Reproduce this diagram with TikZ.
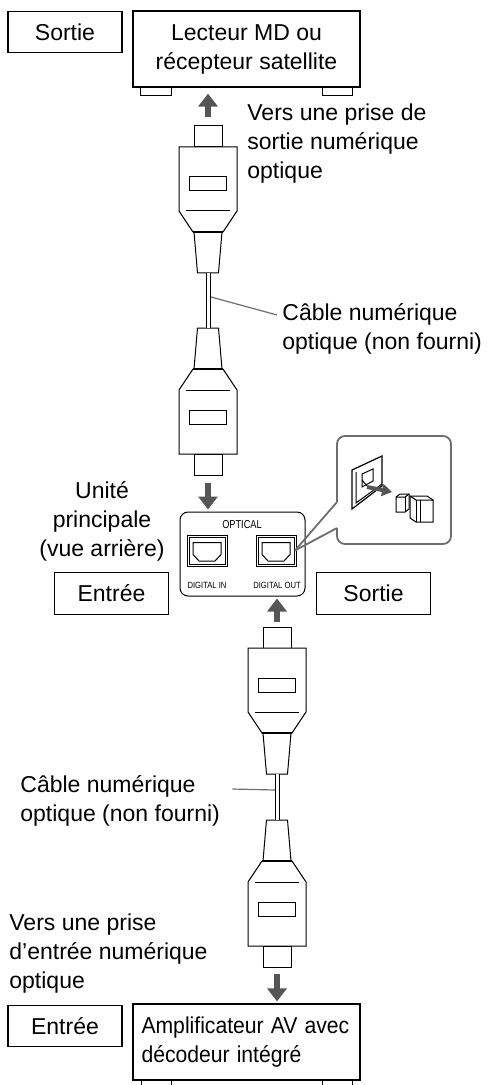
\documentclass[tikz,border=0pt]{standalone}
\usepackage{fontspec}
\setmainfont{Liberation Sans}
\usetikzlibrary{arrows.meta}
\definecolor{arrowgray}{RGB}{85, 85, 85}
\definecolor{leadergray}{RGB}{110, 110, 110}
\definecolor{textblack}{RGB}{0, 0, 0}

\begin{document}
\begin{tikzpicture}[
        x=0.5pt, y=-0.5pt,
        every node/.style={font=\fontsize{11.5}{14.5}\selectfont, text=textblack},
        tagbox/.style={rectangle, draw, line width=0.6pt, minimum width=57pt, minimum height=20.75pt, inner sep=0pt},
        device/.style={rectangle, draw, line width=0.6pt, minimum width=113.5pt, minimum height=38pt, inner sep=0pt},
        caption/.style={anchor=north west, align=left, inner sep=0pt},
        panel/.style={rectangle, rounded corners=4pt, draw, line width=0.5pt, minimum width=62.5pt, minimum height=42pt},
        jack/.style={rectangle, draw, line width=0.5pt, double, double distance=0.5pt, minimum width=19pt, minimum height=14.5pt, inner sep=0pt, outer sep=0pt},
        paneltext/.style={font=\fontsize{5.75}{6}\selectfont, inner sep=0pt},
        jacktext/.style={font=\fontsize{4.5}{5}\selectfont, inner sep=0pt},
        pointer/.style={draw=arrowgray, line width=3.25pt, -{Triangle[width=9.5pt,length=6.5pt]}},
        leader/.style={draw=leadergray, line width=0.6pt},
        zoomframe/.style={draw=leadergray, line width=0.9pt},
        cable/.style={draw, line width=0.5pt, double, double distance=1.5pt},
        plugline/.style={line width=0.5pt, fill=white},
        plug/.pic={
            % ferrule
            \draw[plugline] (-14,0) rectangle (14,21);
            % body with window
            \draw[plugline] (-29,21) -- (-29,85) -- (-15,106) -- (15,106) -- (29,85) -- (29,21) -- cycle;
            \draw[line width=0.5pt] (-22,85) -- (22,85);
            \draw[line width=0.5pt] (-18.5,51) rectangle (18.5,65);
            % boot
            \draw[plugline] (-14,106) -- (-10.5,147) -- (10.5,147) -- (14,106);
            \draw[line width=1.1pt] (-15,106) -- (15,106);
            \coordinate (-tip) at (0,0);
            \coordinate (-end) at (0,147);
        }
    ]
    \useasboundingbox (0,0) rectangle (490,1085);

    % Source device
    \node[tagbox] (outtop) at (65,32) {Sortie};
    \node[device, align=center] (player) at (246.5,49) {Lecteur MD ou\\récepteur satellite};
    \draw[line width=0.6pt] ([xshift=4pt]player.south west) rectangle ++(31,8);
    \draw[line width=0.6pt] ([xshift=-4pt]player.south east) rectangle ++(-30,8);
    \node[caption] (plugtextA) at (247,103) {Vers une prise de\\sortie numérique\\optique};

    % First optical cable
    \pic (plugA) at (208,126) {plug};
    \pic[rotate=180] (plugB) at (208,475) {plug};
    \draw[cable] (plugA-end) -- (plugB-end);
    \coordinate (cabA) at (211,297);
    \node[caption] (cabtextA) at (282,303) {Câble numérique\\optique (non fourni)};
    \draw[leader] ([shift={(-2.5pt,-6pt)}]cabtextA.north west) -- (cabA);

    % Main unit rear panel
    \node[align=center, anchor=north, inner sep=0pt] (unit) at (102,481) {Unité\\principale\\(vue arrière)};
    \node[panel] (unitpanel) at (242.5,554) {};
    \node[paneltext] (optical) at (242,525) {\scalebox{0.8}[1]{OPTICAL}};
    \node[jack] (jackin) at (207,550.5) {};
    \node[jack] (jackout) at (276,550.5) {};
    \draw[line width=0.5pt, shift={(jackin.center)}] (-14,-8) -- (14,-8) -- (14,4) -- (8,10.5) -- (-8,10.5) -- (-14,4) -- cycle;
    \draw[line width=0.5pt, shift={(jackout.center)}] (-14,-8) -- (14,-8) -- (14,4) -- (8,10.5) -- (-8,10.5) -- (-14,4) -- cycle;
    \node[jacktext] (labelin) at (207,585) {\scalebox{0.85}[1]{DIGITAL IN}};
    \node[jacktext] (labelout) at (277,585) {\scalebox{0.85}[1]{DIGITAL OUT}};
    \node[tagbox] (inmid) at (111.5,593.5) {Entrée};
    \node[tagbox] (outmid) at (373.5,593.5) {Sortie};

    % Detail: removing the cap from the jack
    \coordinate (zoomA) at (337,502);
    \coordinate (zoomB) at (337,528);
    \draw[zoomframe, rounded corners=4pt] (zoomB) -- (337,544) -- (451,544) -- (451,436) -- (337,436) -- (zoomA);
    \draw[zoomframe] (jackout.east) -- (zoomA);
    \draw[zoomframe] (jackout.east) -- (zoomB);
    \draw[line width=0.6pt, fill=white] (352,470) -- (382,456) -- (382,486) -- (352,509) -- cycle;
    \draw[line width=0.5pt] (356,472) -- (356,503) -- (382,484);
    \draw[line width=0.5pt] (362,474) -- (373,469) -- (373,481) -- (362,487) -- cycle;
    \draw[line width=0.5pt] (362,480) -- (367,486);
    \draw[line width=2pt, arrowgray, -{Triangle[width=6pt,length=5pt]}] (367,487) -- (392,492);
    \draw[line width=0.5pt, fill=white] (396,497) -- (400,494) -- (409,494) -- (409,509) -- (405,512) -- (396,512) -- cycle;
    \draw[line width=0.5pt] (396,497) -- (405,497) -- (409,494);
    \draw[line width=0.5pt] (405,497) -- (405,512);
    \draw[line width=0.5pt, fill=white] (410,496) -- (427,496) -- (433,500) -- (433,522) -- (416,522) -- (410,518) -- cycle;
    \draw[line width=0.5pt] (410,496) -- (416,500) -- (433,500);
    \draw[line width=0.5pt] (416,500) -- (416,522);
    \draw[line width=0.5pt] (420,500) -- (420,522);

    % Second optical cable
    \pic (plugC) at (277,627) {plug};
    \pic[rotate=180] (plugD) at (277,967) {plug};
    \draw[cable] (plugC-end) -- (plugD-end);
    \coordinate (cabB) at (275,790);
    \node[caption] (cabtextB) at (20,775) {Câble numérique\\optique (non fourni)};
    \draw[leader] ([shift={(6pt,-7pt)}]cabtextB.north east) -- (cabB);

    % Receiving device
    \node[caption] (plugtextB) at (9,913) {Vers une prise\\d’entrée numérique\\optique};
    \node[tagbox] (inbot) at (65,1026) {Entrée};
    \node[device, align=left, text width=105pt] (amp) at (246.5,1042) {\scalebox{0.92}[1]{Amplificateur AV avec}\\\scalebox{0.92}[1]{décodeur intégré}};
    \draw[line width=0.6pt] ([xshift=4.5pt]amp.south west) rectangle ++(30,10);
    \draw[line width=0.6pt] ([xshift=-4pt]amp.south east) rectangle ++(-30,10);

    % Plug-to-jack arrows
    \draw[pointer, shorten <=4.5pt, shorten >=3pt] (plugA-tip) -- (plugA-tip |- player.south);
    \draw[pointer, shorten <=4pt, shorten >=1pt] (plugB-tip) -- (plugB-tip |- unitpanel.north);
    \draw[pointer, shorten <=2.5pt, shorten >=1pt] (plugC-tip) -- (plugC-tip |- unitpanel.south);
    \draw[pointer, shorten <=3.5pt, shorten >=1pt] (plugD-tip) -- (plugD-tip |- amp.north);

\end{tikzpicture}
\end{document}
